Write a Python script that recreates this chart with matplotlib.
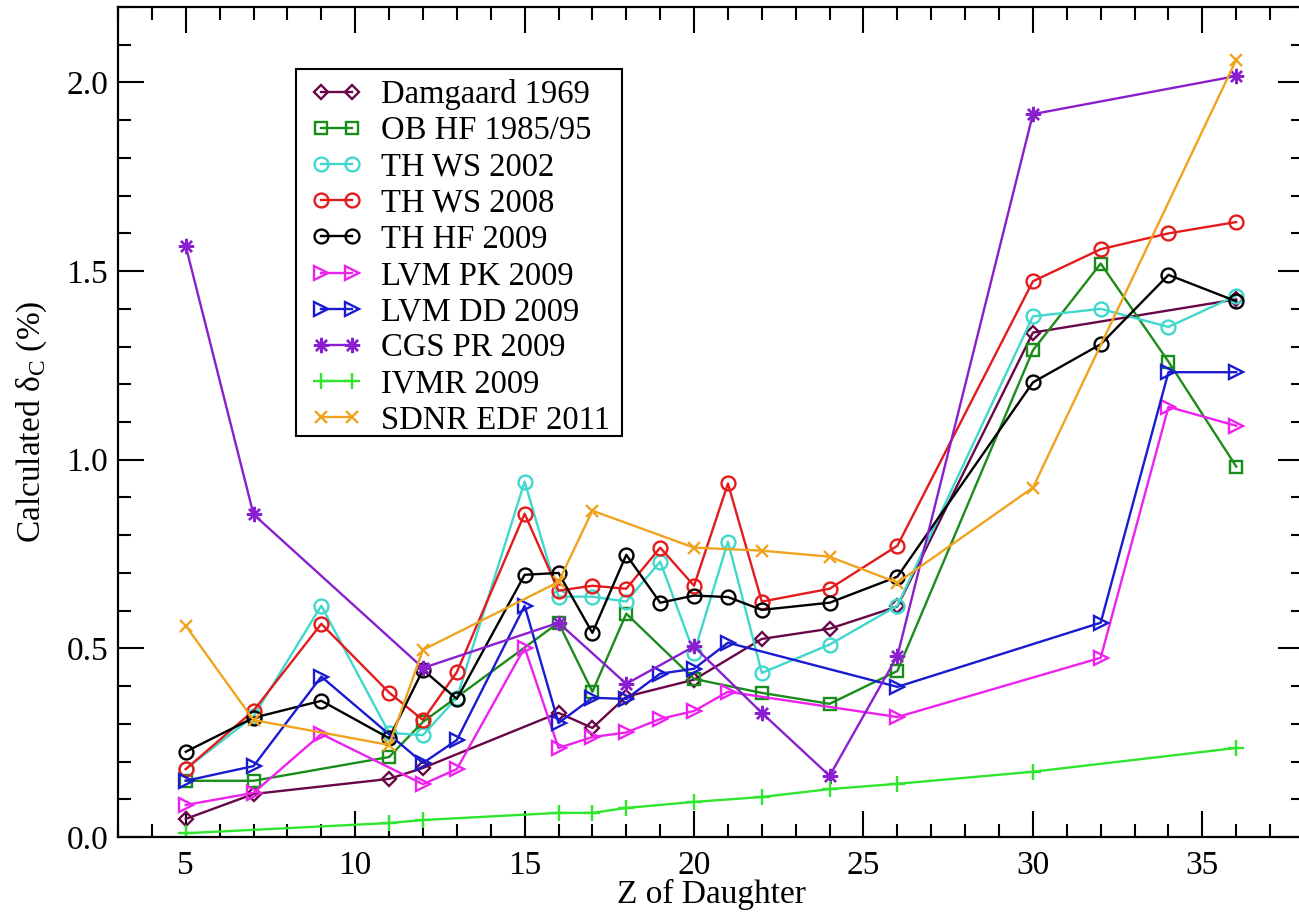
import matplotlib
matplotlib.use("Agg")
import matplotlib.pyplot as plt
from matplotlib.patches import Rectangle
from matplotlib.ticker import MultipleLocator, FormatStrFormatter

plt.rcParams['font.family'] = ['Liberation Serif', 'DejaVu Serif']
plt.rcParams['mathtext.fontset'] = 'custom'
plt.rcParams['mathtext.rm'] = 'Liberation Serif'

# Calculated isospin-breaking corrections delta_C (%) vs Z of the daughter
damgaard_z = [5, 7, 11, 12, 16, 17, 18, 20, 22, 24, 26, 30, 36]
damgaard = [0.048, 0.114, 0.154, 0.183, 0.329, 0.289, 0.372, 0.417, 0.525, 0.552, 0.611, 1.337, 1.425]

obhf_z = [5, 7, 11, 12, 16, 17, 18, 20, 22, 24, 26, 30, 32, 34, 36]
obhf = [0.149, 0.149, 0.212, 0.305, 0.568, 0.385, 0.592, 0.419, 0.382, 0.353, 0.440, 1.290, 1.520, 1.260, 0.982]

th_z = [5, 7, 9, 11, 12, 13, 15, 16, 17, 18, 19, 20, 21, 22, 24, 26, 30, 32, 34, 36]
thws02 = [0.180, 0.320, 0.613, 0.276, 0.270, 0.369, 0.942, 0.637, 0.637, 0.624, 0.730, 0.488, 0.783, 0.435, 0.510, 0.613, 1.380, 1.400, 1.352, 1.435]
thws08 = [0.180, 0.335, 0.565, 0.383, 0.310, 0.437, 0.857, 0.653, 0.666, 0.658, 0.767, 0.666, 0.937, 0.624, 0.658, 0.772, 1.473, 1.558, 1.600, 1.630]
thhf09 = [0.226, 0.316, 0.361, 0.262, 0.443, 0.366, 0.695, 0.700, 0.541, 0.748, 0.621, 0.640, 0.636, 0.602, 0.621, 0.690, 1.205, 1.306, 1.490, 1.420]

lvm_z = [5, 7, 9, 12, 13, 15, 16, 17, 18, 19, 20, 21, 26, 32, 34, 36]
lvmpk = [0.085, 0.117, 0.273, 0.140, 0.180, 0.502, 0.236, 0.265, 0.277, 0.313, 0.334, 0.385, 0.318, 0.475, 1.140, 1.090]
lvmdd = [0.149, 0.188, 0.425, 0.196, 0.257, 0.613, 0.302, 0.369, 0.366, 0.433, 0.446, 0.515, 0.398, 0.568, 1.232, 1.232]

cgs_z = [5, 7, 12, 16, 18, 20, 22, 24, 26, 30, 36]
cgs = [1.566, 0.855, 0.448, 0.568, 0.406, 0.505, 0.329, 0.162, 0.480, 1.916, 2.017]

ivmr_z = [5, 11, 12, 16, 17, 18, 20, 22, 24, 26, 30, 36]
ivmr = [0.010, 0.037, 0.045, 0.064, 0.064, 0.077, 0.093, 0.106, 0.127, 0.141, 0.173, 0.236]

sdnr_z = [5, 7, 11, 12, 16, 17, 20, 22, 24, 26, 30, 36]
sdnr = [0.560, 0.310, 0.244, 0.496, 0.676, 0.865, 0.767, 0.759, 0.743, 0.674, 0.926, 2.060]

series = [
    ("Damgaard 1969",  damgaard_z, damgaard, '#670748', 'D', 7.5),
    ("OB HF 1985/95",  obhf_z,     obhf,     '#1a8c1a', 's', 9),
    ("TH WS 2002",     th_z,       thws02,   '#40d8cc', 'o', 10),
    ("TH WS 2008",     th_z,       thws08,   '#e41b1b', 'o', 10),
    ("TH HF 2009",     th_z,       thhf09,   '#000000', 'o', 10),
    ("LVM PK 2009",    lvm_z,      lvmpk,    '#ee22ee', '>', 10),
    ("LVM DD 2009",    lvm_z,      lvmdd,    '#1a1ad0', '>', 10),
    ("CGS PR 2009",    cgs_z,      cgs,      '#8a1fd0', (8, 2, 0), 11),
    ("IVMR 2009",      ivmr_z,     ivmr,     '#2ee62e', '+', 12),
    ("SDNR EDF 2011",  sdnr_z,     sdnr,     '#f0a31e', 'x', 9),
]

W, H = 1299, 913
fig = plt.figure(figsize=(W / 100, H / 100), dpi=100)
ax = fig.add_axes([118 / W, 76 / H, 1186 / W, 830 / H])

for label, xs, ys, color, marker, ms in series:
    ax.plot(xs, ys, color=color, lw=1.7, marker=marker, ms=ms,
            mfc='none', mec=color, mew=1.7, label=label)

ax.set_xlim(3, 38)
ax.set_ylim(0, 2.2)
ax.xaxis.set_major_locator(MultipleLocator(5))
ax.xaxis.set_minor_locator(MultipleLocator(1))
ax.yaxis.set_major_locator(MultipleLocator(0.5))
ax.yaxis.set_minor_locator(MultipleLocator(0.1))
ax.yaxis.set_major_formatter(FormatStrFormatter('%.1f'))

ax.tick_params(which='both', direction='in', top=True, right=True, width=1.5, labelsize=24)
ax.tick_params(which='major', length=19)
ax.tick_params(which='minor', length=9.5)
ax.tick_params(axis='x', pad=10)
ax.tick_params(axis='y', pad=7)
for sp in ax.spines.values():
    sp.set_linewidth(1.6)

ax.set_xlabel("Z of Daughter", fontsize=24)
ax.set_ylabel(r"Calculated δ$_{\rm C}$ (%)", fontsize=24)
ax.xaxis.set_label_coords(0.5, -0.05)
ax.yaxis.set_label_coords(-0.058, 0.5)

# legend box with the entries placed inside it
box = Rectangle((296 / W, 1 - 436 / H), (622 - 296) / W, (436 - 69) / H,
                transform=fig.transFigure, facecolor='white', edgecolor='black',
                linewidth=1.5, zorder=5)
fig.add_artist(box)
leg = fig.legend(*ax.get_legend_handles_labels(), loc='upper left',
                 bbox_to_anchor=(311 / W, 1 - 79 / H), bbox_transform=fig.transFigure,
                 borderaxespad=0, borderpad=0, fontsize=23.5, numpoints=2,
                 handlelength=1.55, handletextpad=0.6, labelspacing=0.175,
                 frameon=False)
leg.set_zorder(6)

fig.savefig("out.png", dpi=100)
